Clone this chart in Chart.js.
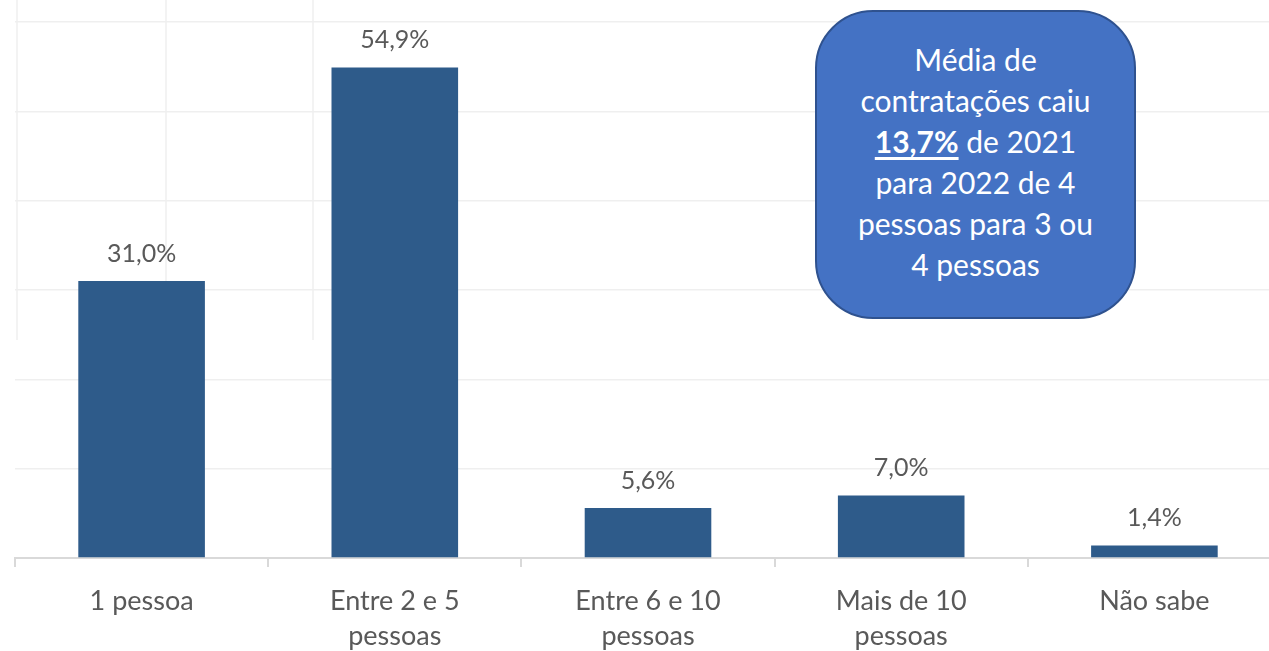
<!DOCTYPE html>
<html>
<head>
<meta charset="utf-8">
<script src="https://cdn.jsdelivr.net/npm/chart.js@4.4.0/dist/chart.umd.min.js"></script>
<style>
  html, body { margin: 0; padding: 0; background: #fff; overflow: hidden; }
  #wrap { position: relative; width: 1296px; height: 651px; }
  #note {
    position: absolute; left: 815px; top: 10px; width: 321px; height: 309px;
    box-sizing: border-box; background: #4472c4; border: 2px solid #2f528f;
    border-radius: 58px; color: #fff; font-family: Lato, 'Open Sans', sans-serif;
    font-size: 30px; line-height: 41px; text-align: center; padding-top: 27px;
  }
  #note b { text-decoration: underline; text-underline-offset: 4px; }
</style>
</head>
<body>
<div id="wrap">
  <canvas id="chart" width="1296" height="651"></canvas>
  <div id="note">Média de<br>contratações caiu<br><b>13,7%</b> de 2021<br>para 2022 de 4<br>pessoas para 3 ou<br>4 pessoas</div>
</div>
<script>
const categories = [['1 pessoa'], ['Entre 2 e 5', 'pessoas'], ['Entre 6 e 10', 'pessoas'], ['Mais de 10', 'pessoas'], ['Não sabe']]
const shares = [31.0, 54.9, 5.6, 7.0, 1.4]
const yTicks = [0, 10, 20, 30, 40, 50, 60]

const fontFamily = "Lato, 'Open Sans', sans-serif"

// faint spreadsheet cell lines behind the chart
const cellLines = {
  id: 'cellLines',
  beforeDraw(chart) {
    const ctx = chart.ctx
    ctx.save()
    ctx.strokeStyle = '#efefef'
    ctx.lineWidth = 1.5
    ;[17, 166, 313].forEach(x => {
      ctx.beginPath()
      ctx.moveTo(x, 0)
      ctx.lineTo(x, 340)
      ctx.stroke()
    })
    ctx.restore()
  }
}

// value labels above bars
const valueLabels = {
  id: 'valueLabels',
  afterDatasetsDraw(chart) {
    const ctx = chart.ctx
    ctx.save()
    ctx.fillStyle = '#595959'
    ctx.font = `25px ${fontFamily}`
    ctx.textAlign = 'center'
    ctx.textBaseline = 'bottom'
    chart.getDatasetMeta(0).data.forEach((bar, i) => {
      ctx.fillText(shares[i].toFixed(1).replace('.', ',') + '%', bar.x, bar.y - 15)
    })
    ctx.restore()
  }
}

new Chart(document.getElementById('chart'), {
  type: 'bar',
  data: {
    labels: categories,
    datasets: [{
      data: shares,
      backgroundColor: '#2e5b8a',
      barPercentage: 0.5,
      categoryPercentage: 1
    }]
  },
  options: {
    responsive: false,
    animation: false,
    layout: { padding: { left: 15, right: 15, top: 22 } },
    plugins: { legend: { display: false }, tooltip: { enabled: false } },
    scales: {
      x: {
        offset: true,
        grid: { offset: true, drawOnChartArea: false, drawTicks: true, tickLength: 9, color: '#d9d9d9', lineWidth: 2 },
        border: { color: '#d9d9d9', width: 2 },
        ticks: { color: '#595959', font: { family: fontFamily, size: 27, lineHeight: 1.3 }, padding: 17, maxRotation: 0, autoSkip: false },
        afterFit(scale) { scale.height = 93 }
      },
      y: {
        min: 0,
        max: 60,
        afterBuildTicks(scale) { scale.ticks = yTicks.map(v => ({ value: v })) },
        grid: { color: '#efefef', lineWidth: 1.5, drawTicks: false },
        border: { display: false },
        ticks: { display: false },
        afterFit(scale) { scale.width = 0 }
      }
    }
  },
  plugins: [cellLines, valueLabels]
})
</script>
</body>
</html>
